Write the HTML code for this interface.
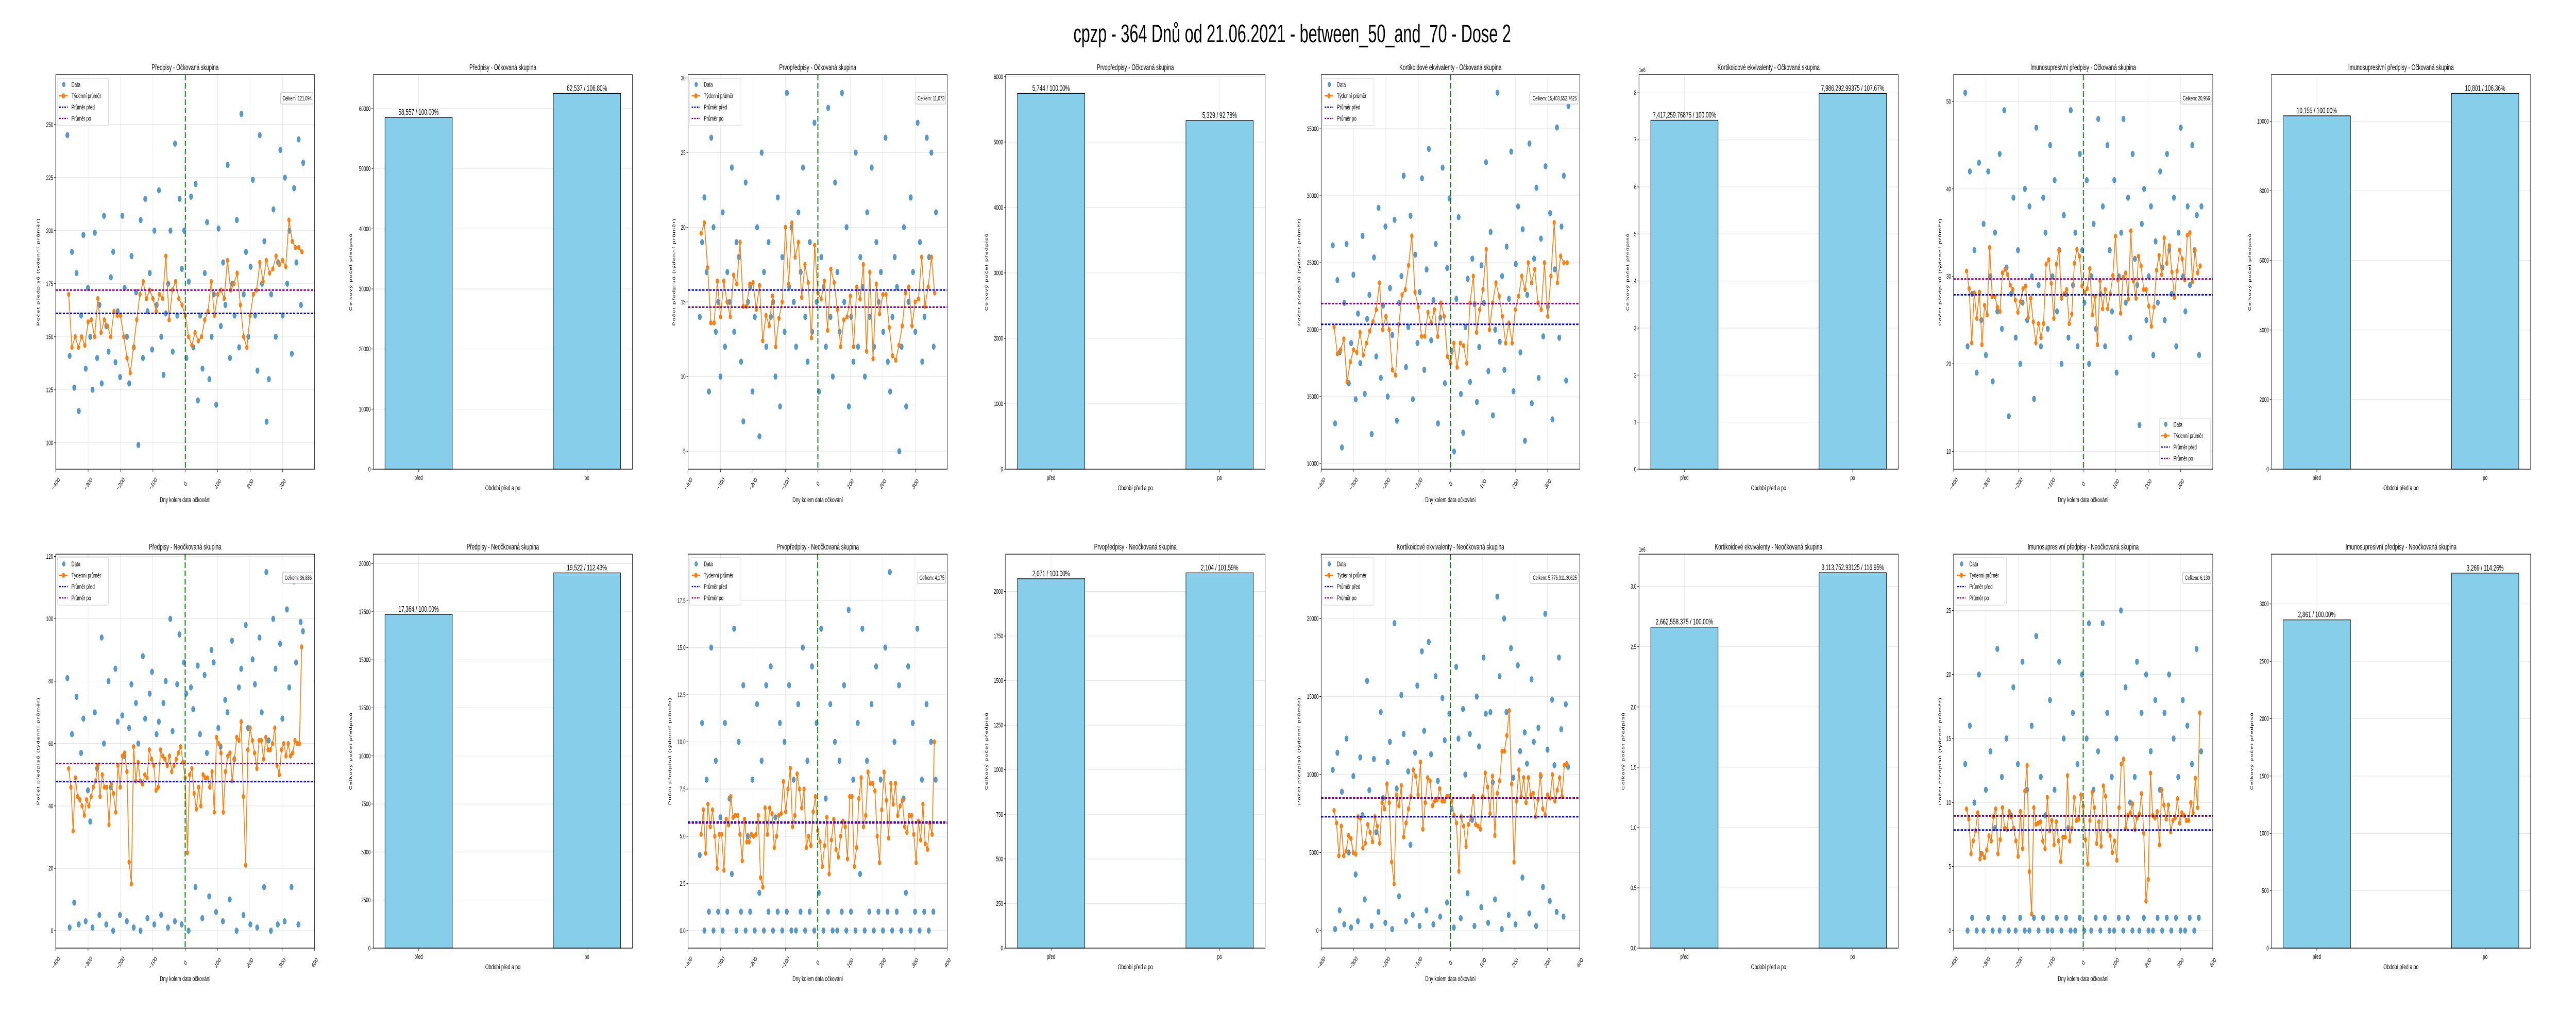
<!DOCTYPE html>
<html><head><meta charset="utf-8"><style>
html,body{margin:0;padding:0;background:#fff;overflow:hidden;width:100vw;height:100vh;}
svg{display:block;width:100vw;height:100vh;font-family:"Liberation Sans","DejaVu Sans",sans-serif;}
</style></head><body>
<svg id="fig" xmlns="http://www.w3.org/2000/svg" viewBox="0 0 8000 2000" preserveAspectRatio="none">
<rect width="8000" height="2000" fill="#fff"/>
<text x="4013" y="82" font-size="49" text-anchor="middle" fill="#000">cpzp - 364 Dnů od 21.06.2021 - between_50_and_70 - Dose 2</text>
</svg>
<script>
// ---------- DATA ----------
const predpisyOckScatter=[245,141,190,126,180,115,160,198,135,173,150,125,199,140,165,128,207,155,143,178,190,138,162,131,207,173,150,128,188,145,171,99,205,140,215,162,180,144,200,165,219,150,132,161,175,200,143,241,160,215,182,200,140,176,216,145,222,120,160,135,180,204,130,150,170,118,201,155,185,165,231,140,175,160,205,145,255,170,190,150,183,224,160,134,245,175,195,110,130,170,210,150,185,238,160,225,175,200,142,220,185,243,165,232];
const predpisyOckWeekly=[170,145,150,145,150,146,157,158,150,168,152,158,155,150,162,160,160,150,140,133,145,158,170,176,168,172,168,162,170,168,188,158,172,176,168,165,160,150,146,152,148,150,158,162,176,160,170,172,168,186,172,175,180,165,150,145,160,170,172,185,176,186,180,182,188,184,186,183,205,195,192,192,190];
const prvoOckScatter=[14,19,22,17,9,26,20,13,15,10,21,12,17,15,24,13,19,18,11,7,23,15,16,9,14,20,6,25,17,12,19,14,15,10,22,8,18,13,29,16,20,15,12,21,17,24,14,11,19,13,27,15,9,18,16,12,28,14,10,23,17,13,29,15,20,8,14,11,25,12,18,16,10,21,14,24,12,19,15,17,13,26,11,9,14,18,16,5,12,20,8,15,22,17,13,27,19,11,14,26,18,25,12,21];
const prvoOckWeekly=[19.6,20.3,17.3,13.6,13.6,16.4,14.0,16.4,15.0,14.0,16.8,16.2,19.0,14.7,14.7,16.2,16.3,14.5,16.1,12.4,14.1,13.4,15.4,12.0,13.9,15.0,20.0,16.2,20.3,18.0,19.0,15.3,17.5,16.3,12.6,18.8,15.6,15.2,16.4,13.1,17.2,16.3,14.5,12.0,13.8,14.0,15.4,12.0,16.0,15.2,17.5,11.7,17.0,11.2,16.2,14.2,15.5,15.5,13.3,11.4,11.1,12.1,13.4,15.6,16.0,13.4,15.0,15.2,18.0,14.7,16.0,18.0,15.6];
const kortiOckScatter=[26300,13000,23700,18300,11200,22000,26400,16000,19000,24100,14800,21200,17500,27000,15200,20800,22600,12200,25400,18000,29100,16400,21800,27700,15000,23100,19600,28200,13200,22000,24000,31500,17200,20200,28500,14800,25600,19000,22800,31300,17000,24500,33500,19200,22200,26400,13000,20900,32100,16000,24600,29800,18400,10900,22300,28400,15200,12300,20200,23800,16100,25300,21900,14600,18700,24800,22000,32500,16900,27300,13600,20000,37700,19100,24000,17000,26200,22300,33300,15400,24900,29200,18300,27500,11700,22600,33900,14500,25300,30600,16400,26800,19500,32200,21700,28700,13300,24500,35100,19400,27700,31500,16200,36700];
const kortiOckWeekly=[20200,18200,18500,19300,16100,17600,18500,18300,19800,18100,19000,19900,20600,21500,23500,20000,21000,20000,17000,16600,20400,22600,23000,24800,27000,22800,21700,19500,19500,21300,20500,21500,19500,22000,21000,18000,17500,19000,17200,19000,18800,17500,22000,24000,19800,21500,23000,26000,20000,22000,23500,22500,21000,19000,20500,19000,21500,22500,24000,23000,25000,23500,24500,22000,21500,25000,21000,24000,28000,23500,25500,25000,25000];
const imunoOckScatter=[51,22,42,28,33,19,43,25,36,21,42,30,18,35,26,44,24,49,31,14,28,39,23,33,20,27,40,25,38,30,16,47,29,22,39,35,24,45,30,41,26,33,20,37,28,23,49,29,35,22,44,33,27,41,20,30,36,24,48,28,38,22,45,33,26,41,19,30,35,48,27,39,23,44,32,29,13,36,40,25,30,38,21,34,27,42,31,25,44,33,28,39,22,35,47,30,26,38,29,45,33,37,21,38];
const imunoOckWeekly=[30.6,28.6,22.4,28.1,25.2,28.2,22.2,26.7,25.6,33.3,27.7,27.7,26.5,26.0,30.4,30.8,30.2,29.0,28.5,27.3,25.9,27.1,28.6,28.9,25.3,27.5,24.8,22.4,24.6,23.0,24.6,31.4,31.9,29.2,25.2,31.4,33.0,27.5,28.0,28.5,24.6,25.7,31.5,33.1,32.3,28.9,28.2,28.6,30.9,25.6,27.7,22.2,29.5,26.3,28.5,26.3,28.0,30.1,34.6,29.6,25.8,29.9,30.4,27.4,35.2,29.5,27.5,32.3,31.2,28.5,28.5,26.6,24.3,26.5,30.7,32.4,30.2,34.4,31.5,33.5,30.5,27.6,30.6,33.0,32.0,29.6,34.7,35.0,29.4,33.0,30.4,31.2];
const predpisyNeoScatter=[81,1,63,9,75,2,57,68,3,45,35,1,70,52,5,94,60,2,80,46,0,84,67,5,69,56,3,65,79,1,73,60,0,88,68,4,76,83,2,63,67,5,73,80,1,100,64,3,79,95,2,86,76,0,78,71,14,85,63,4,82,57,11,90,86,6,65,59,3,74,70,10,93,55,0,78,84,5,98,65,2,87,79,1,94,70,14,115,61,0,100,84,2,92,68,3,103,78,14,112,86,2,99,96];
const predpisyNeoWeekly=[52,46,32,49,43,42,40,37,42,40,43,46,48,53,43,50,46,46,34,47,44,38,53,46,56,57,51,22,15,59,48,54,48,47,50,49,58,55,53,45,46,58,56,55,53,56,51,53,55,57,59,54,49,25,50,52,44,39,46,40,50,49,49,46,51,38,62,60,57,38,51,56,57,48,55,62,61,67,43,21,58,65,61,57,52,61,61,55,62,58,58,60,65,53,50,58,60,56,60,56,57,61,60,60,91];
const prvoNeoScatter=[4,11,0,8,1,15,0,9,1,6,0,11,1,7,3,16,0,10,1,13,0,5,1,8,0,12,2,9,0,13,1,14,0,6,1,11,0,10,1,13,0,8,0,12,1,15,0,9,1,14,0,11,2,16,0,7,1,12,0,10,0,9,1,13,0,17,1,8,0,11,3,16,0,9,1,12,0,14,1,8,0,15,1,19,0,10,1,13,0,7,2,14,0,11,1,16,0,8,1,12,0,10,1,8];
const prvoNeoWeekly=[5.1,6.4,4.1,6.7,5.5,6.4,5.0,3.3,5.1,5.1,3.2,5.9,5.6,7.1,6.0,6.1,6.1,5.1,3.7,5.9,4.7,4.7,5.1,5.0,5.1,6.1,2.8,2.3,6.5,5.1,6.5,6.2,4.4,5.0,6.1,6.2,7.9,6.3,7.5,8.6,5.5,6.1,8.3,7.5,6.5,7.5,4.4,5.0,4.5,6.3,7.1,5.3,4.7,3.4,4.5,6.0,3.0,4.8,5.9,4.3,3.9,5.0,5.8,5.5,3.8,7.1,7.1,3.4,4.4,7.0,8.1,5.5,6.1,8.4,7.8,7.8,7.4,5.0,3.6,6.4,8.4,6.9,4.9,7.8,6.7,7.8,6.1,6.6,6.9,5.5,5.2,6.1,6.1,5.1,3.6,5.8,4.8,6.7,4.6,4.3,5.7,5.1,10.0];
const kortiNeoScatter=[10300,100,11400,1300,8900,400,12300,5000,200,9900,3600,600,11100,7400,2000,16000,9000,300,11000,6300,1200,14000,8500,500,10800,12100,100,19700,9100,2200,15100,12600,600,10200,5500,1000,11400,15700,300,17900,12800,1300,18500,11300,400,16300,9600,900,14900,12200,1800,13900,7800,200,16900,12300,800,14200,10000,2400,12600,7100,300,15000,11800,1500,17500,13900,500,14000,9500,2000,21400,16300,100,20000,14000,1000,18100,9800,400,17000,11500,3400,12700,10700,1100,16100,12100,300,13000,9900,2800,20300,11600,1900,14800,10600,1200,17500,12900,900,14500,10500];
const kortiNeoWeekly=[7700,6900,4800,6700,4800,5100,6100,5900,5000,4900,7300,7200,5300,5600,6800,6300,5700,7300,6700,5600,8200,7800,9400,8200,4400,3000,8700,8000,9300,6000,6900,7800,8600,10300,9900,8700,10800,6500,8200,9800,9600,8000,8300,8400,9100,8300,8300,8600,8600,8300,7400,6900,3800,7300,6700,5400,6800,7300,8600,6800,6700,6500,8600,10100,9200,7500,9900,6100,8800,9600,11500,11500,12500,14100,9400,4400,8300,10300,8600,9800,8200,9800,8700,8800,7300,8400,10000,7800,7400,8700,8500,10000,8300,9000,9800,8600,10600,10700];
const imunoNeoScatter=[13,0,16,1,10,0,20,6,0,11,1,14,0,8,22,0,12,1,15,0,9,19,0,13,1,21,0,11,0,16,1,23,0,12,1,9,0,18,0,11,1,21,0,15,1,8,0,17,0,13,1,20,0,15,24,0,11,1,14,0,24,1,17,0,12,0,15,1,25,0,19,1,10,0,12,21,0,17,1,20,0,14,0,18,1,11,0,17,1,20,0,15,1,12,0,18,0,16,1,13,0,22,1,14];
const imunoNeoWeekly=[9.5,8.7,6.0,7.0,7.8,9.2,5.6,6.0,5.7,6.3,7.4,7.0,8.9,9.5,6.0,7.1,9.6,8.0,7.9,9.3,8.9,8.0,7.0,5.8,9.3,6.4,10.9,12.9,4.6,1.3,9.6,8.3,8.4,8.5,7.0,6.4,10.4,7.8,8.6,6.7,8.5,7.0,5.4,7.3,7.3,12.1,7.0,8.0,10.4,8.6,8.7,10.6,9.7,7.1,5.2,8.6,10.8,9.6,6.8,8.5,6.6,11.3,10.5,7.8,7.4,6.1,7.0,5.5,9.6,13.0,13.4,8.0,9.0,9.2,9.9,7.9,8.8,9.1,10.7,7.6,2.3,4.0,12.3,9.0,8.8,9.3,6.7,11.0,9.8,8.7,9.8,7.7,8.6,8.8,10.3,8.4,9.2,9.0,8.6,8.6,10.0,9.2,11.9,9.6,17.0];

const avgBefore=[161,15.8,20400,27.9,47.8,5.75,7300,7.85];
const avgAfter=[172,14.65,21950,29.7,53.6,5.7,8500,8.95];
const totals=["121,094","11,073","15,403,552.7625","20,956","36,886","4,175","5,776,311.30625","6,130"];

const barCategories=["před","po"];
const barValues=[[58557,62537],[5744,5329],[7417259.76875,7986292.99375],[10155,10801],[17364,19522],[2071,2104],[2662558.375,3113752.93125],[2861,3269]];
const barLabels=[["58,557 / 100.00%","62,537 / 106.80%"],["5,744 / 100.00%","5,329 / 92.78%"],["7,417,259.76875 / 100.00%","7,986,292.99375 / 107.67%"],["10,155 / 100.00%","10,801 / 106.36%"],["17,364 / 100.00%","19,522 / 112.43%"],["2,071 / 100.00%","2,104 / 101.59%"],["2,662,558.375 / 100.00%","3,113,752.93125 / 116.95%"],["2,861 / 100.00%","3,269 / 114.26%"]];

// ---------- LAYOUT ----------
const NS="http://www.w3.org/2000/svg";
const svg=document.getElementById('fig');
function el(tag,attrs,parent){const e=document.createElementNS(NS,tag);for(const k in attrs)e.setAttribute(k,attrs[k]);(parent||svg).appendChild(e);return e;}
function txt(s,attrs,parent){const t=el('text',attrs,parent);t.textContent=s;return t;}
const fmtMinus=v=>String(v).replace('-','\u2212');

const scatterX=[[173,977],[2137,2942],[4103,4906],[6067,6872]];
const barX=[[1159,1964],[3123,3929],[5090,5895],[7054,7859]];
const rowY=[[145,911],[1076,1841]];

const scatterPanels=[
 {title:"Předpisy - Očkovaná skupina",s:predpisyOckScatter,w:predpisyOckWeekly,ymin:87.6,ymax:273.5,t0:100,t1:250,dt:25,dec:0,xmax:399,ylo:54,leg:"ul"},
 {title:"Prvopředpisy - Očkovaná skupina",s:prvoOckScatter,w:prvoOckWeekly,ymin:3.8,ymax:30.22,t0:5,t1:30,dt:5,dec:0,xmax:399,ylo:43,leg:"ul"},
 {title:"Kortikoidové ekvivalenty - Očkovaná skupina",s:kortiOckScatter,w:kortiOckWeekly,ymin:9581,ymax:39043,t0:10000,t1:35000,dt:5000,dec:0,xmax:399,ylo:68,leg:"ul"},
 {title:"Imunosupresivní předpisy - Očkovaná skupina",s:imunoOckScatter,w:imunoOckWeekly,ymin:7.96,ymax:53.06,t0:10,t1:50,dt:10,dec:0,xmax:399,ylo:41,leg:"lr"},
 {title:"Předpisy - Neočkovaná skupina",s:predpisyNeoScatter,w:predpisyNeoWeekly,ymin:-5.6,ymax:120.74,t0:0,t1:120,dt:20,dec:0,xmax:400,ylo:54,leg:"ul"},
 {title:"Prvopředpisy - Neočkovaná skupina",s:prvoNeoScatter,w:prvoNeoWeekly,ymin:-0.93,ymax:19.95,t0:0,t1:17.5,dt:2.5,dec:1,xmax:400,ylo:56,leg:"ul"},
 {title:"Kortikoidové ekvivalenty - Neočkovaná skupina",s:kortiNeoScatter,w:kortiNeoWeekly,ymin:-1120,ymax:24123,t0:0,t1:20000,dt:5000,dec:0,xmax:400,ylo:68,leg:"ul"},
 {title:"Imunosupresivní předpisy - Neočkovaná skupina",s:imunoNeoScatter,w:imunoNeoWeekly,ymin:-1.37,ymax:29.4,t0:0,t1:25,dt:5,dec:0,xmax:400,ylo:41,leg:"ul"}
];
const barPanels=[
 {title:"Předpisy - Očkovaná skupina",ymax:65659,t1:60000,dt:10000,dec:0,sc:1,ylo:69},
 {title:"Prvopředpisy - Očkovaná skupina",ymax:6030,t1:6000,dt:1000,dec:0,sc:1,ylo:59},
 {title:"Kortikoidové ekvivalenty - Očkovaná skupina",ymax:8.386e6,t1:8,dt:1,dec:0,sc:1e6,ylo:35},
 {title:"Imunosupresivní předpisy - Očkovaná skupina",ymax:11338,t1:10000,dt:2000,dec:0,sc:1,ylo:67},
 {title:"Předpisy - Neočkovaná skupina",ymax:20498,t1:20000,dt:2500,dec:0,sc:1,ylo:69},
 {title:"Prvopředpisy - Neočkovaná skupina",ymax:2209,t1:2000,dt:250,dec:0,sc:1,ylo:59},
 {title:"Kortikoidové ekvivalenty - Neočkovaná skupina",ymax:3.268e6,t1:3.0,dt:0.5,dec:1,sc:1e6,ylo:48},
 {title:"Imunosupresivní předpisy - Neočkovaná skupina",ymax:3434,t1:3000,dt:500,dec:0,sc:1,ylo:60}
];

function drawScatter(p,idx){
  const row=idx<4?0:1,col=idx%4;
  const [x0,x1]=scatterX[col],[y0,y1]=rowY[row];
  const xmin=-400,xmax=p.xmax;
  const X=d=>x0+(d-xmin)/(xmax-xmin)*(x1-x0);
  const Y=v=>y1-(v-p.ymin)/(p.ymax-p.ymin)*(y1-y0);
  const g=el('g',{});
  
  
  const xt=[-400,-300,-200,-100,0,100,200,300];if(xmax>=400)xt.push(400);
  xt.forEach(d=>{const x=X(d);
    el('line',{x1:x,x2:x,y1:y0,y2:y1,stroke:'#b0b0b0','stroke-opacity':0.3,'stroke-width':1.2},g);
    el('line',{x1:x,x2:x,y1:y1,y2:y1+5,stroke:'#000','stroke-width':1},g);
    const t=txt(fmtMinus(d),{x:x,y:y1+33,'font-size':13,'text-anchor':'middle',transform:`rotate(-45 ${x} ${y1+28})`},g);
    
  });
  for(let v=p.t0;v<=p.t1+1e-9;v+=p.dt){const y=Y(v);
    el('line',{x1:x0,x2:x1,y1:y,y2:y,stroke:'#b0b0b0','stroke-opacity':0.3,'stroke-width':1.2},g);
    el('line',{x1:x0-5,x2:x0,y1:y,y2:y,stroke:'#000','stroke-width':1},g);
    const t=txt(v.toFixed(p.dec),{x:x0-8,y:y+4.5,'font-size':13,'text-anchor':'end'},g);
    
  }
  const n=p.s.length;
  p.s.forEach((v,i)=>{const d=-364+i*728/(n-1);
    const c=el('circle',{cx:X(d),cy:Y(v),r:6,fill:'#1f77b4','fill-opacity':0.75},g);
    
  });
  const m=p.w.length;const pts=p.w.map((v,i)=>[X(-360+i*720/(m-1)),Y(v)]);
  const pl=el('polyline',{points:pts.map(q=>q.join(',')).join(' '),fill:'none',stroke:'#ff7f0e','stroke-width':2.5},g);
  
  pts.forEach(q=>{const c=el('circle',{cx:q[0],cy:q[1],r:5,fill:'#ff7f0e'},g);
    });
  const lb=el('line',{x1:x0,x2:x1,y1:Y(avgBefore[idx]),y2:Y(avgBefore[idx]),stroke:'#0000ff','stroke-width':3,'stroke-dasharray':'7,4'},g);
  
  const la=el('line',{x1:x0,x2:x1,y1:Y(avgAfter[idx]),y2:Y(avgAfter[idx]),stroke:'#800080','stroke-width':3,'stroke-dasharray':'7,4'},g);
  
  const lv=el('line',{x1:X(0),x2:X(0),y1:y0,y2:y1,stroke:'#008000','stroke-width':3,'stroke-dasharray':'11,5'},g);
  
  el('rect',{x:x0,y:y0,width:x1-x0,height:y1-y0,fill:'none',stroke:'#000','stroke-width':1.3},g);
  const lx=p.leg==='ul'?x0+5:x1-7-159, ly=p.leg==='ul'?y0+7:y1-7-92;
  const lg=el('g',{},g);
  
  el('rect',{x:lx,y:ly,width:159,height:92,rx:3,fill:'#fff','fill-opacity':0.85,stroke:'#d0d0d0','stroke-width':1},lg);
  const names=["Data","Týdenní průměr","Průměr před","Průměr po"];
  names.forEach((nm,k)=>{const yy=ly+12+k*22;
    if(k===0)el('circle',{cx:lx+20,cy:yy,r:5,fill:'#1f77b4','fill-opacity':0.75},lg);
    if(k===1){el('line',{x1:lx+6,x2:lx+32,y1:yy,y2:yy,stroke:'#ff7f0e','stroke-width':2.5},lg);el('circle',{cx:lx+19,cy:yy,r:5,fill:'#ff7f0e'},lg);}
    if(k===2)el('line',{x1:lx+6,x2:lx+32,y1:yy,y2:yy,stroke:'#0000ff','stroke-width':2.5,'stroke-dasharray':'5,3'},lg);
    if(k===3)el('line',{x1:lx+6,x2:lx+32,y1:yy,y2:yy,stroke:'#800080','stroke-width':2.5,'stroke-dasharray':'5,3'},lg);
    const t=txt(nm,{x:lx+44,y:yy+4.5,'font-size':13},lg);
    
  });
  const tb=el('g',{},g);
  
  const label='Celkem: '+totals[idx];
  const tw=label.length*6.2;
  el('rect',{x:x1-5-tw-8,y:y0+35,width:tw+8,height:22,rx:3,fill:'#fff',stroke:'#b0b0b0','stroke-width':1},tb);
  txt(label,{x:x1-9,y:y0+50,'font-size':12,'text-anchor':'end'},tb);
  const ti=txt(p.title,{x:(x0+x1)/2,y:y0-9,'font-size':16,'text-anchor':'middle'},g);
  
  const xl=txt('Dny kolem data očkování',{x:(x0+x1)/2,y:y1+64,'font-size':14,'text-anchor':'middle'},g);
  
  const yx=x0-p.ylo,yc=(y0+y1)/2;
  const yl=txt('Počet předpisů (týdenní průměr)',{x:yx,y:yc,'font-size':12,'letter-spacing':1.2,'text-anchor':'middle',transform:`rotate(-90 ${yx} ${yc})`,'dominant-baseline':'middle'},g);
  
}

function drawBar(p,idx){
  const row=idx<4?0:1,col=idx%4;
  const [x0,x1]=barX[col],[y0,y1]=rowY[row];
  const X=c=>x0+(c+0.27)/1.54*(x1-x0);
  const Y=v=>y1-v/p.ymax*(y1-y0);
  const g=el('g',{});
  
  
  for(let v=0;v<=p.t1+1e-9;v+=p.dt){const y=Y(v*p.sc);
    el('line',{x1:x0,x2:x1,y1:y,y2:y,stroke:'#b0b0b0','stroke-opacity':0.3,'stroke-width':1.2},g);
    el('line',{x1:x0-5,x2:x0,y1:y,y2:y,stroke:'#000','stroke-width':1},g);
    const t=txt(v.toFixed(p.dec),{x:x0-8,y:y+4.5,'font-size':13,'text-anchor':'end'},g);
    
  }
  if(p.sc!==1){const o=txt('1e6',{x:x0,y:y0-5,'font-size':12},g);}
  barCategories.forEach((c,i)=>{const cx=X(i),bw=0.4/1.54*(x1-x0);
    el('line',{x1:cx,x2:cx,y1:y0,y2:y1,stroke:'#b0b0b0','stroke-opacity':0.3,'stroke-width':1.2},g);
    const v=barValues[idx][i];
    const r=el('rect',{x:cx-bw/2,y:Y(v),width:bw,height:y1-Y(v),fill:'#87ceeb',stroke:'#000','stroke-width':1.3},g);
    
    const lt=txt(barLabels[idx][i],{x:cx,y:Y(v)-5,'font-size':16,'text-anchor':'middle'},g);
    
    el('line',{x1:cx,x2:cx,y1:y1,y2:y1+5,stroke:'#000','stroke-width':1},g);
    const tk=txt(c,{x:cx,y:y1+21,'font-size':13,'text-anchor':'middle'},g);
    
  });
  el('rect',{x:x0,y:y0,width:x1-x0,height:y1-y0,fill:'none',stroke:'#000','stroke-width':1.3},g);
  const ti=txt(p.title,{x:(x0+x1)/2,y:y0-9,'font-size':16,'text-anchor':'middle'},g);
  
  const xl=txt('Období před a po',{x:(x0+x1)/2,y:y1+41,'font-size':14,'text-anchor':'middle'},g);
  
  const yx=x0-p.ylo,yc=(y0+y1)/2;
  const yl=txt('Celkový počet předpisů',{x:yx,y:yc,'font-size':12,'letter-spacing':1.2,'text-anchor':'middle',transform:`rotate(-90 ${yx} ${yc})`,'dominant-baseline':'middle'},g);
  
}

scatterPanels.forEach(drawScatter);
barPanels.forEach(drawBar);
</script>
</body></html>
